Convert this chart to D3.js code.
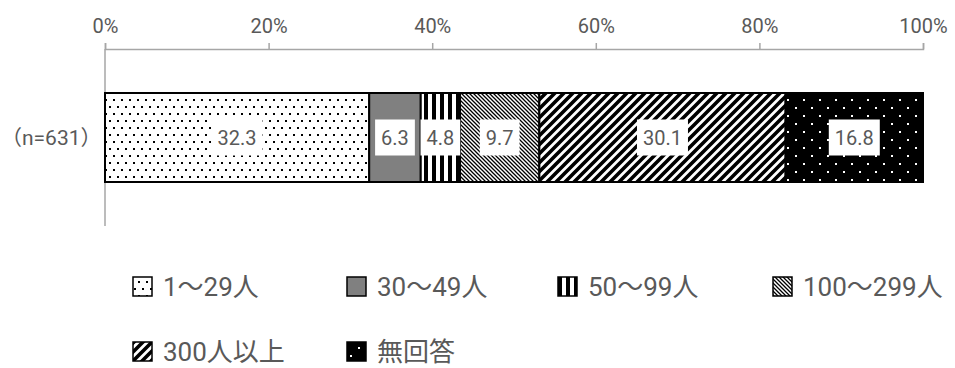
<!DOCTYPE html>
<html>
<head>
<meta charset="utf-8">
<script src="https://cdn.jsdelivr.net/npm/d3@7"></script>
<style>
  body { margin: 0; background: #fff; }
  text { font-family: Roboto, "Noto Sans CJK JP", sans-serif; fill: #595959; }
</style>
</head>
<body>
<div class="chart"></div>
<script>
// Chart data
var categories = ["1〜29人", "30〜49人", "50〜99人", "100〜299人", "300人以上", "無回答"];
var values = [32.3, 6.3, 4.8, 9.7, 30.1, 16.8];
var rowLabel = "（n=631）";
var tickValues = [0, 20, 40, 60, 80, 100];

var svgWidth = 955;
var svgHeight = 368;
var margin = {left: 105, right: 32, top: 49};

var svg = d3.select(".chart").append("svg")
  .attr("width", svgWidth)
  .attr("height", svgHeight);

// Fill patterns, one for each category
var defs = svg.append("defs");

function makePattern(id, w, h, draw) {
  var p = defs.append("pattern")
    .attr("id", id)
    .attr("patternUnits", "userSpaceOnUse")
    .attr("width", w).attr("height", h);
  draw(p);
}

makePattern("p0", 8, 14, function(p) {
  p.append("rect").attr("width", 8).attr("height", 14).attr("fill", "#fff");
  p.append("rect").attr("x", 1).attr("y", 1).attr("width", 2).attr("height", 2).attr("fill", "#000");
  p.append("rect").attr("x", 5).attr("y", 8).attr("width", 2).attr("height", 2).attr("fill", "#000");
});
makePattern("p1", 4, 4, function(p) {
  p.append("rect").attr("width", 4).attr("height", 4).attr("fill", "#808080");
});
makePattern("p2", 8, 8, function(p) {
  p.append("rect").attr("width", 8).attr("height", 8).attr("fill", "#fff");
  p.append("rect").attr("x", 0).attr("width", 4).attr("height", 8).attr("fill", "#000");
});
makePattern("p3", 4, 4, function(p) {
  p.append("rect").attr("width", 4).attr("height", 4).attr("fill", "#fff");
  p.append("path").attr("d", "M-1,-1L5,5M-1,3L1,5M3,-1L5,1")
    .attr("stroke", "#000").attr("stroke-width", 1.3);
});
makePattern("p4", 9, 9, function(p) {
  p.append("rect").attr("width", 9).attr("height", 9).attr("fill", "#fff");
  p.append("path").attr("d", "M-1,10L10,-1M-5,5L5,-5M4,14L14,4")
    .attr("stroke", "#000").attr("stroke-width", 3.6);
});
makePattern("p5", 16, 16, function(p) {
  p.append("rect").attr("width", 16).attr("height", 16).attr("fill", "#000");
  p.append("rect").attr("x", 3).attr("y", 3).attr("width", 2).attr("height", 2).attr("fill", "#fff");
  p.append("rect").attr("x", 11).attr("y", 11).attr("width", 2).attr("height", 2).attr("fill", "#fff");
});

// Scales
var x = d3.scaleLinear().domain([0, 100]).range([margin.left, svgWidth - margin.right]);
var y = d3.scaleBand().domain([rowLabel]).range([margin.top, 226]).paddingInner(0).paddingOuter(0.25);

// Top axis
var topAxis = d3.axisTop(x).tickValues(tickValues)
  .tickFormat(function(d) { return d + "%"; })
  .tickSize(6).tickPadding(10);

var gx = svg.append("g")
  .attr("transform", "translate(0," + margin.top + ")")
  .call(topAxis);
gx.select(".domain").attr("stroke", "#a6a6a6").attr("stroke-width", 1.5);
gx.selectAll(".tick line").attr("stroke", "#a6a6a6").attr("stroke-width", 1.5);
gx.selectAll(".tick text").attr("font-size", 20).style("font-family", "Roboto").attr("fill", "#595959");

// Left axis line
svg.append("line")
  .attr("x1", x(0)).attr("x2", x(0))
  .attr("y1", margin.top).attr("y2", 226)
  .attr("stroke", "#a6a6a6").attr("stroke-width", 1.5);

// Row label
svg.append("text")
  .attr("x", 1)
  .attr("y", y(rowLabel) + y.bandwidth() / 2)
  .attr("dy", "0.35em")
  .attr("text-anchor", "start")
  .attr("font-size", 21)
  .text(rowLabel);

// Stacked segments
var starts = [];
values.reduce(function(acc, v, i) { starts[i] = acc; return acc + v; }, 0);

var barH = 89;
var barY = y(rowLabel) + (y.bandwidth() - barH) / 2;

svg.selectAll("rect.seg")
  .data(values)
  .enter().append("rect")
  .attr("class", "seg")
  .attr("x", function(d, i) { return x(starts[i]); })
  .attr("y", barY)
  .attr("width", function(d) { return x(d) - x(0); })
  .attr("height", barH)
  .attr("fill", function(d, i) { return "url(#p" + i + ")"; })
  .attr("stroke", "#000")
  .attr("stroke-width", 2);

// Value labels with white boxes
var labels = svg.selectAll("g.lab")
  .data(values)
  .enter().append("g")
  .attr("class", "lab")
  .attr("transform", function(d, i) {
    return "translate(" + x(starts[i] + d / 2) + "," + (barY + barH / 2) + ")";
  });

labels.append("text")
  .attr("text-anchor", "middle")
  .attr("dy", "0.35em")
  .attr("font-size", 20)
  .text(function(d) { return d.toFixed(1); })
  .each(function() {
    var b = this.getBBox();
    d3.select(this.parentNode).insert("rect", "text")
      .attr("x", b.x - 6).attr("y", -18)
      .attr("width", b.width + 12).attr("height", 36)
      .attr("fill", "#fff");
  });

// Legend
var legendX = [133, 347, 558, 773];
var legendY = [287, 352];
var legend = svg.selectAll("g.leg")
  .data(categories)
  .enter().append("g")
  .attr("class", "leg")
  .attr("transform", function(d, i) {
    return "translate(" + legendX[i % 4] + "," + legendY[Math.floor(i / 4)] + ")";
  });

legend.append("rect")
  .attr("x", 0).attr("y", -10)
  .attr("width", 19).attr("height", 19)
  .attr("fill", function(d, i) { return "url(#p" + i + ")"; })
  .attr("stroke", "#000")
  .attr("stroke-width", 1.5);

legend.append("text")
  .attr("x", 30)
  .attr("dy", "0.35em")
  .attr("font-size", 26)
  .text(function(d) { return d; });
</script>
</body>
</html>
